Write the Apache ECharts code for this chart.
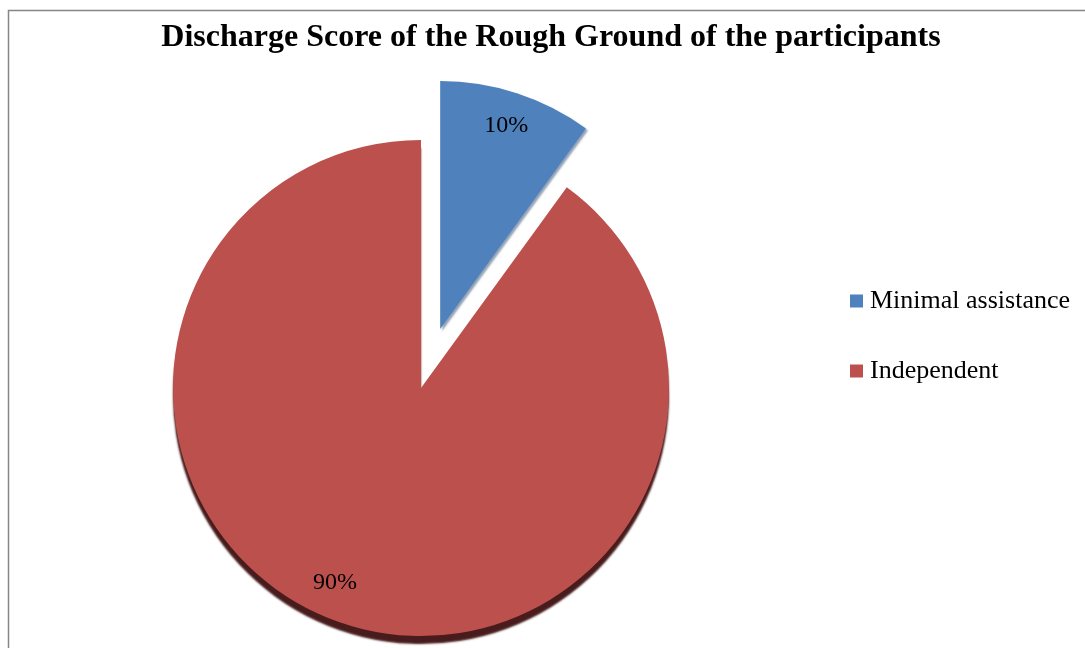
<!DOCTYPE html>
<html>
<head>
<meta charset="utf-8">
<script src="https://cdn.jsdelivr.net/npm/echarts@6/dist/echarts.min.js"></script>
<style>
html,body{margin:0;padding:0;background:#fff;}
#c{width:1085px;height:648px;}
</style>
</head>
<body>
<div id="c"></div>
<script>
const titleText = 'Discharge Score of the Rough Ground of the participants';
const categories = ['Minimal assistance', 'Independent'];
const values = [10, 90];
const colors = ['#4F81BD', '#BC504D'];

const chart = echarts.init(document.getElementById('c'), null, {renderer: 'canvas'});

const center = [421, 388];
const R = 248;
const offset = 62;

const mainData = categories.map((n, i) => ({
  name: n,
  value: values[i],
  selected: i === 0,
  itemStyle: {
    color: colors[i],
    shadowColor: i === 1 ? 'rgba(72,28,28,1)' : 'rgba(40,70,110,0.5)',
    shadowBlur: 2,
    shadowOffsetY: i === 1 ? 8 : 2,
    shadowOffsetX: i === 1 ? 0 : 2
  }
}));
const labelOffsets = [[-5, 14], [-20, -9]];
const labelData = categories.map((n, i) => ({
  name: n,
  value: values[i],
  selected: i === 0,
  label: {offset: labelOffsets[i]}
}));

chart.setOption({
  animation: false,
  title: {
    text: titleText,
    left: 546,
    textAlign: 'center',
    top: 17,
    textStyle: {fontFamily: 'Liberation Serif', fontWeight: 'bold', fontSize: 32, color: '#000'}
  },
  legend: {
    orient: 'vertical',
    left: 845,
    top: 283,
    itemGap: 44,
    icon: 'rect',
    itemWidth: 13,
    itemHeight: 13,
    data: categories,
    textStyle: {fontFamily: 'Liberation Serif', fontSize: 26, color: '#000', padding: [0,0,0,2]},
    selectedMode: false
  },
  graphic: [{
    type: 'rect',
    shape: {x: 8.5, y: 10.5, width: 1100, height: 660},
    style: {fill: 'none', stroke: '#868686', lineWidth: 1.5},
    silent: true,
    z: -10
  }],
  series: [
    {
      type: 'pie',
      center: center,
      radius: [0, R],
      startAngle: 90,
      clockwise: true,
      selectedMode: 'single',
      selectedOffset: offset,
      label: {show: false},
      labelLine: {show: false},
      emphasis: {disabled: true},
      data: mainData
    },
    {
      type: 'pie',
      center: center,
      radius: [R * 0.7, R],
      startAngle: 90,
      clockwise: true,
      selectedMode: 'single',
      selectedOffset: offset,
      silent: true,
      itemStyle: {color: 'rgba(0,0,0,0)'},
      label: {
        show: true,
        position: 'inside',
        formatter: p => p.value + '%',
        fontFamily: 'Liberation Serif',
        fontSize: 24,
        color: '#000'
      },
      labelLine: {show: false},
      emphasis: {disabled: true},
      legendHoverLink: false,
      data: labelData,
      z: 3
    }
  ]
});
</script>
</body>
</html>
